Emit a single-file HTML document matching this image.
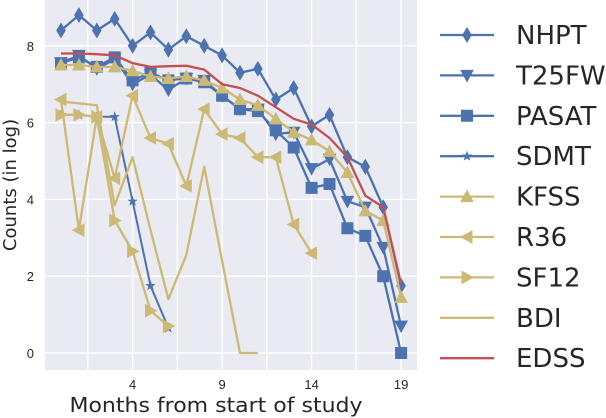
<!DOCTYPE html>
<html><head><meta charset="utf-8"><style>
html,body{margin:0;padding:0;background:#fff;}
svg{display:block;font-family:"Liberation Sans","DejaVu Sans",sans-serif;}
</style></head><body>
<svg id="chart" width="606" height="418" xmlns="http://www.w3.org/2000/svg">
<rect x="45" y="0" width="372" height="370" fill="#eaeaf2"/>
<g id="grid"></g><g id="series"></g><g id="axes"></g><g id="legend"></g>
<text x="216" y="412" font-size="20" fill="#262626" text-anchor="middle" textLength="293" lengthAdjust="spacingAndGlyphs" font-family="DejaVu Sans, sans-serif">Months from start of study</text>
<text transform="translate(16,185) rotate(-90)" font-size="18" fill="#262626" text-anchor="middle" font-family="DejaVu Sans, sans-serif">Counts (in log)</text>
</svg>
<script>
const NHPT=[8.4,8.8,8.4,8.7,8.0,8.35,7.9,8.25,8.0,7.75,7.3,7.4,6.6,6.9,5.9,6.2,5.1,4.85,3.8,1.75];
const T25FW=[7.55,7.75,7.4,7.65,7.0,7.25,6.85,7.15,7.1,6.7,6.35,6.35,5.7,5.75,4.8,5.05,3.95,3.8,2.75,0.7];
const PASAT=[7.55,7.7,7.45,7.7,7.1,7.3,7.1,7.15,7.05,6.7,6.35,6.3,5.8,5.35,4.3,4.4,3.25,3.05,2.0,0.0];
const SDMT=[6.2,6.2,6.15,6.15,3.95,1.75,0.65];
const KFSS=[7.5,7.5,7.45,7.45,7.35,7.2,7.15,7.2,7.1,6.9,6.6,6.45,6.1,5.75,5.55,5.25,4.7,3.7,3.45,1.45];
const R36=[6.6,3.2,6.15,4.55,6.7,5.6,5.45,4.35,6.35,5.7,5.6,5.1,5.1,3.35,2.6];
const SF12=[6.2,6.2,6.15,3.45,2.65,1.1,0.7];
const BDI=[6.55,6.5,6.45,3.85,5.1,3.2,1.4,2.55,4.85,2.4,0,0];
const EDSS=[7.8,7.8,7.78,7.75,7.55,7.45,7.47,7.48,7.38,7.0,6.9,6.7,6.4,6.1,5.95,5.6,5.1,4.1,3.8,1.8];
const xTicks=[4,9,14,19];
const yTicks=[0,2,4,6,8];
const NS="http://www.w3.org/2000/svg";
const BLUE="#4c72b0",GOLD="#ccb974",RED="#c44e52";
function xs(i){return 61+i*17.9;}
function ys(v){return 353-v*38.4;}
function mk(tag,attrs,parent){const e=document.createElementNS(NS,tag);for(const k in attrs)e.setAttribute(k,attrs[k]);parent.appendChild(e);return e;}
const grid=document.getElementById('grid'),axes=document.getElementById('axes');
for(let g=-1;g<=19.5;g+=2.5){const l=mk('line',{x1:xs(g),x2:xs(g),y1:0,y2:370,stroke:'#fff','stroke-width':1.4},grid);

}
for(let v=0;v<=9;v+=2){const l=mk('line',{x1:45,x2:417,y1:ys(v),y2:ys(v),stroke:'#fff','stroke-width':1.4},grid);

}
xTicks.forEach(t=>{const tx=mk('text',{x:xs(t),y:389,'font-size':13,fill:'#262626','text-anchor':'middle'},axes);tx.textContent=t;

});
yTicks.forEach(t=>{const tx=mk('text',{x:34,y:ys(t)+5,'font-size':13,fill:'#262626','text-anchor':'end'},axes);tx.textContent=t;

});
function marker(type,cx,cy,color,parent){
 let p;
 if(type==='d')p=`M${cx},${cy-7} L${cx+4.2},${cy} L${cx},${cy+7} L${cx-4.2},${cy}Z`;
 else if(type==='v')p=`M${cx-6},${cy-5} L${cx+6},${cy-5} L${cx},${cy+6}Z`;
 else if(type==='^')p=`M${cx-6},${cy+5} L${cx+6},${cy+5} L${cx},${cy-6}Z`;
 else if(type==='<')p=`M${cx+5},${cy-6} L${cx+5},${cy+6} L${cx-6},${cy}Z`;
 else if(type==='>')p=`M${cx-5},${cy-6} L${cx-5},${cy+6} L${cx+6},${cy}Z`;
 else if(type==='s')p=`M${cx-5.5},${cy-5.5} h11 v11 h-11Z`;
 else if(type==='*'){let a=[];for(let k=0;k<10;k++){const r=k%2?1.6:4;const an=-Math.PI/2+k*Math.PI/5;a.push((cx+r*Math.cos(an)).toFixed(1)+','+(cy+r*Math.sin(an)).toFixed(1));}p='M'+a.join(' L')+'Z';}
 if(!p)return null;
 return mk('path',{d:p,fill:color,stroke:color,'stroke-width':1},parent);
}
const series=[["NHPT",NHPT,BLUE,'d'],["T25FW",T25FW,BLUE,'v'],["PASAT",PASAT,BLUE,'s'],["SDMT",SDMT,BLUE,'*'],["KFSS",KFSS,GOLD,'^'],["R36",R36,GOLD,'<'],["SF12",SF12,GOLD,'>'],["BDI",BDI,GOLD,''],["EDSS",EDSS,RED,'']];
const sg=document.getElementById('series'),lg=document.getElementById('legend');
series.forEach(([name,vals,color,m],si)=>{
 const g=mk('g',{},sg);
 
 
 const pts=vals.map((v,i)=>xs(i).toFixed(1)+','+ys(v).toFixed(1)).join(' ');
 const pl=mk('polyline',{points:pts,fill:'none',stroke:color,'stroke-width':name==='SDMT'?2:2.3,'stroke-linejoin':'round'},g);
 
 
 vals.forEach((v,i)=>{const e=marker(m,xs(i),ys(v),color,g);if(e){
 
 }});
 const ly=35+si*40.4;
 const le=mk('g',{},lg);
 
 
 mk('line',{x1:440,x2:494,y1:ly,y2:ly,stroke:color,'stroke-width':2.3},le);
 marker(m,467,ly,color,le);
 const t=mk('text',{x:516,y:ly+9,'font-size':26,fill:'#262626','font-family':'DejaVu Sans, sans-serif'},le);t.textContent=name;
});
</script>
</body></html>
